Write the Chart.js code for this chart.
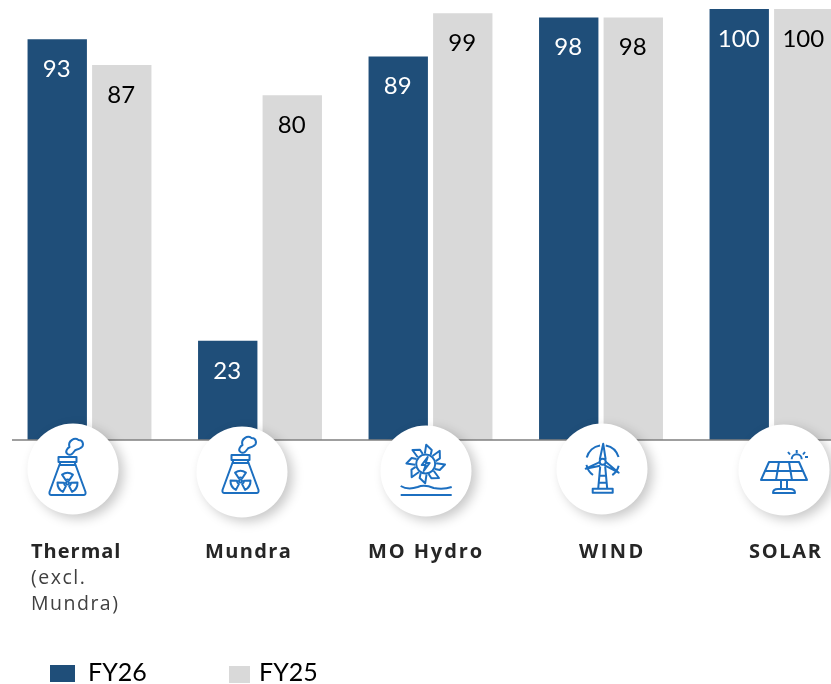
<!DOCTYPE html>
<html>
<head>
<meta charset="utf-8">
<style>
  html, body { margin: 0; padding: 0; background: #fff; overflow: hidden; width: 831px; height: 684px; }
  canvas { display: block; }
</style>
<script src="https://cdn.jsdelivr.net/npm/chart.js@4/dist/chart.umd.min.js"></script>
</head>
<body>
<canvas id="chartCanvas" width="860" height="684"></canvas>
<script>
const categories = ['Thermal', 'Mundra', 'MO Hydro', 'WIND', 'SOLAR'];
const fy26Values = [93, 23, 89, 98, 100];
const fy25Values = [87, 80, 99, 98, 100];
const subLabelLines = ['(excl.', 'Mundra)'];

const NAVY = '#1f4e79';
const GREY = '#d9d9d9';
const ICON_BLUE = '#1c6fc0';
const NUM_FONT = 'Lato, "Open Sans", sans-serif';
const LABEL_FONT = '"Open Sans", sans-serif';

// where the badge circles and their text sit
const circles = [[73, 469], [242, 472], [426, 471], [602, 469], [784, 470]];
const labelX = [31, 205, 368, 579, 749];
const labelSpacing = [1.0, 1.35, 1.9, 2.4, 1.7];

function strokePath(ctx, d) {
    ctx.stroke(new Path2D(d));
}

function plantIcon(ctx) {
    strokePath(ctx, 'M-9,-12 H9 V-7 H-9 Z');
    strokePath(ctx, 'M-7,-7 L-18,23 Q-18.5,26 -16,26 H16 Q18.5,26 18,23 L7,-7');
    strokePath(ctx, 'M-7.5,-4 H7.5');
    // smoke
    strokePath(ctx, 'M0,-15 C-3,-17 0,-21 2,-22 C0,-28 7,-32 11,-29 C16,-29 17,-23 13,-21 C10,-19 8,-20 7,-18 C5,-15 3,-13 0,-15 Z');
    // trefoil
    ctx.save();
    ctx.translate(0, 14);
    [-90, 30, 150].forEach((a) => {
        const r = a * Math.PI / 180;
        const s = Math.PI / 5.5;
        ctx.beginPath();
        ctx.arc(0, 0, 10, r - s, r + s);
        ctx.arc(0, 0, 3.5, r + s, r - s, true);
        ctx.closePath();
        ctx.stroke();
    });
    ctx.beginPath();
    ctx.arc(0, 0, 1.5, 0, Math.PI * 2);
    ctx.stroke();
    ctx.restore();
}

function hydroIcon(ctx) {
    ctx.beginPath();
    ctx.arc(0, 0, 9.5, 0, Math.PI * 2);
    ctx.stroke();
    strokePath(ctx, 'M2,-7 L-4,1 H0 L-2,7 L4,-1 H0 Z');
    for (let i = 0; i < 8; i++) {
        ctx.save();
        ctx.rotate((i * 45 + 12) * Math.PI / 180);
        strokePath(ctx, 'M-3,-10 L-3.5,-19 L3,-15 L3,-10');
        ctx.restore();
    }
    strokePath(ctx, 'M-25,22 C-20,25 -14,25 -8,23 C-3,21 3,22 8,24 C14,25 20,25 26,23');
    strokePath(ctx, 'M-25,31 H26');
}

function windIcon(ctx) {
    ctx.beginPath();
    ctx.arc(0, 0, 16.5, 0.25, 0.95);
    ctx.stroke();
    ctx.beginPath();
    ctx.arc(0, 0, 16.5, 2.2, 2.95);
    ctx.stroke();
    ctx.beginPath();
    ctx.arc(0, 0, 16.5, 3.4, 4.55);
    ctx.stroke();
    ctx.beginPath();
    ctx.arc(0, 0, 16.5, 4.9, 6.0);
    ctx.stroke();
    ctx.beginPath();
    ctx.arc(0, 0, 3, 0, Math.PI * 2);
    ctx.stroke();
    // blades
    strokePath(ctx, 'M-3,-2 L0.5,-18 L3,-2');
    strokePath(ctx, 'M-3,0.5 L-17,7 L-2.5,4');
    strokePath(ctx, 'M3,0 L16,11 L1.5,3.5');
    // tower and foot
    strokePath(ctx, 'M-2.5,5 L-4.5,27 M2.5,5 L4.5,27 M-3,14 H3 M-3.8,21 H3.8');
    strokePath(ctx, 'M-10,27 H10 V31 H-10 Z');
}

function solarIcon(ctx) {
    strokePath(ctx, 'M-15,-8 H15 L23,10 H-23 Z');
    strokePath(ctx, 'M-19,1 H19 M-5,-8 L-8,10 M5,-8 L8,10');
    strokePath(ctx, 'M-3,10 V20 M3,10 V20');
    strokePath(ctx, 'M-11,23 Q-11,19 -6,19 H6 Q11,19 11,23 Z');
    ctx.beginPath();
    ctx.arc(12.7, -10.7, 5, Math.PI, Math.PI * 2);
    ctx.stroke();
    strokePath(ctx, 'M12.7,-20 V-17 M4,-18 L6,-15.5 M21,-18 L19,-15.5 M21,-13 H24');
}

const icons = [
    [plantIcon, -5.5, 0],
    [plantIcon, -1.5, -5],
    [hydroIcon, -0.3, -7],
    [windIcon, 0.7, -7.3],
    [solarIcon, 0, 0]
];

// badges, icons, value labels and the bottom texts
const overlayPlugin = {
    id: 'overlay',
    afterDatasetsDraw(chart) {
        const ctx = chart.ctx;
        const base = chart.scales.y.getPixelForValue(0);

        // value labels inside the bars
        ctx.save();
        ctx.textAlign = 'center';
        ctx.textBaseline = 'middle';
        ctx.font = '24px ' + NUM_FONT;
        chart.data.datasets.forEach((ds, i) => {
            chart.getDatasetMeta(i).data.forEach((bar, j) => {
                ctx.fillStyle = i === 0 ? '#ffffff' : '#000000';
                ctx.fillText(String(ds.data[j]), bar.x - 0.5, bar.y + 30);
            });
        });
        ctx.restore();

        // baseline
        ctx.save();
        ctx.strokeStyle = '#7f7f7f';
        ctx.lineWidth = 1.5;
        ctx.beginPath();
        ctx.moveTo(12, base);
        ctx.lineTo(860, base);
        ctx.stroke();
        ctx.restore();

        // white round badges with soft shadow
        circles.forEach((c, i) => {
            ctx.save();
            ctx.shadowColor = 'rgba(0,0,0,0.22)';
            ctx.shadowBlur = 12;
            ctx.shadowOffsetX = 5;
            ctx.shadowOffsetY = 4;
            ctx.fillStyle = '#ffffff';
            ctx.beginPath();
            ctx.arc(c[0], c[1], 45.5, 0, Math.PI * 2);
            ctx.fill();
            ctx.restore();

            ctx.save();
            ctx.translate(c[0] + icons[i][1], c[1] + icons[i][2]);
            ctx.strokeStyle = ICON_BLUE;
            ctx.lineWidth = 2;
            ctx.lineJoin = 'round';
            icons[i][0](ctx);
            ctx.restore();
        });

        // category names
        ctx.save();
        ctx.textAlign = 'left';
        ctx.textBaseline = 'alphabetic';
        ctx.font = 'bold 20px ' + LABEL_FONT;
        ctx.fillStyle = '#262626';
        chart.data.labels.forEach((name, i) => {
            ctx.letterSpacing = labelSpacing[i] + 'px';
            ctx.fillText(name, labelX[i], 558);
        });
        ctx.letterSpacing = '1.5px';
        ctx.font = '19.5px ' + LABEL_FONT;
        ctx.fillStyle = '#404040';
        subLabelLines.forEach((line, i) => {
            ctx.fillText(line, labelX[0], 584 + i * 26);
        });
        ctx.restore();

        // legend
        ctx.save();
        const legendItems = [[50, 665, 25, 17, 88], [229, 666, 21, 17, 259]];
        ctx.font = '25px ' + NUM_FONT;
        ctx.textBaseline = 'alphabetic';
        chart.data.datasets.forEach((ds, i) => {
            const it = legendItems[i];
            ctx.fillStyle = ds.backgroundColor;
            ctx.fillRect(it[0], it[1], it[2], it[3]);
            ctx.fillStyle = '#000000';
            ctx.fillText(ds.label, it[4], 681);
        });
        ctx.restore();
    }
};

const ctx = document.getElementById('chartCanvas').getContext('2d');
new Chart(ctx, {
    type: 'bar',
    data: {
        labels: categories,
        datasets: [
            { label: 'FY26', data: fy26Values, backgroundColor: NAVY },
            { label: 'FY25', data: fy25Values, backgroundColor: GREY }
        ]
    },
    options: {
        responsive: false,
        animation: false,
        layout: { padding: { left: 4.25, right: 3.25, top: 9, bottom: 244 } },
        datasets: { bar: { categoryPercentage: 0.757, barPercentage: 0.92 } },
        plugins: { legend: { display: false }, tooltip: { enabled: false } },
        scales: {
            x: { display: false },
            y: { display: false, min: 0, max: 100 }
        }
    },
    plugins: [overlayPlugin]
});
</script>
</body>
</html>
